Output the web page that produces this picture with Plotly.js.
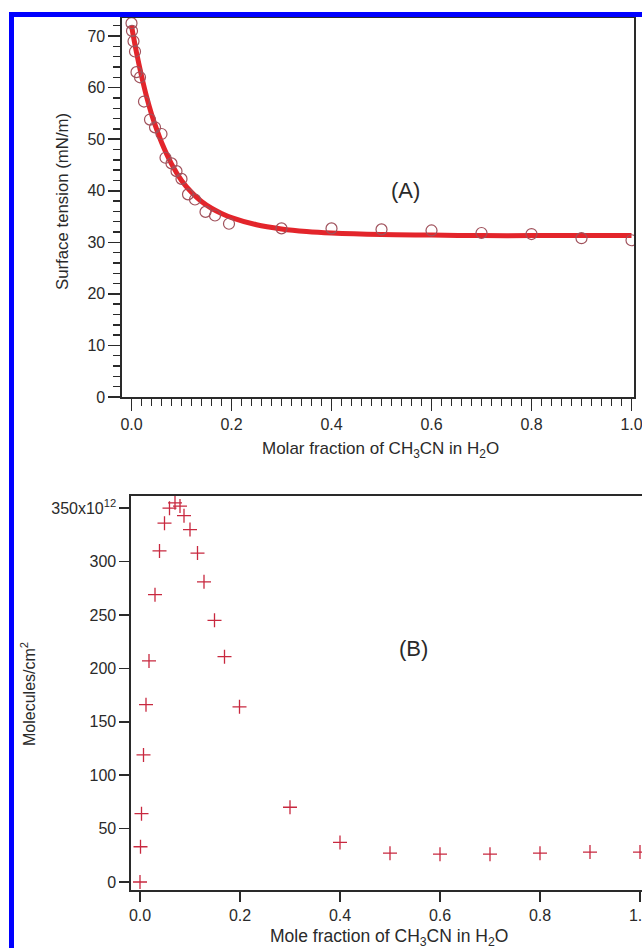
<!DOCTYPE html>
<html>
<head>
<meta charset="utf-8">
<script src="https://cdn.plot.ly/plotly-3.0.1.min.js"></script>
<style>
html, body { margin: 0; padding: 0; background: #fff; overflow: hidden; width: 642px; height: 948px; }
#chart { width: 660px; height: 948px; }
#frame { position: absolute; left: 9px; top: 12px; width: 660px; height: 940px;
  border-left: 5px solid #0000ff; border-top: 5px solid #0000ff; pointer-events: none; }
</style>
</head>
<body>
<div id="chart"></div>
<div id="frame"></div>
<script>
// Panel (A): surface tension measurements
const tensionX = [0, 0.001, 0.004, 0.007, 0.01, 0.017, 0.025, 0.037, 0.047, 0.06, 0.068, 0.08, 0.09, 0.1, 0.113, 0.127, 0.148, 0.167, 0.195, 0.3, 0.4, 0.5, 0.6, 0.7, 0.8, 0.9, 1.0];
const tensionY = [72.5, 71, 69, 67, 63, 62, 57.3, 53.8, 52.3, 51, 46.4, 45.3, 43.8, 42.3, 39.3, 38.3, 35.9, 35.2, 33.6, 32.7, 32.7, 32.5, 32.3, 31.8, 31.6, 30.8, 30.4];
// Panel (A): fitted curve
const fitX = [0, 0.01, 0.02, 0.03, 0.04, 0.05, 0.06, 0.08, 0.1, 0.12, 0.14, 0.16, 0.18, 0.2, 0.25, 0.3, 0.35, 0.4, 0.5, 0.6, 0.7, 0.8, 0.9, 1.0];
const fitY = [72, 66.8, 62.3, 58.3, 54.9, 52, 49.4, 45.2, 42, 39.7, 37.9, 36.6, 35.6, 34.8, 33.4, 32.6, 32.1, 31.8, 31.5, 31.4, 31.3, 31.3, 31.3, 31.3];
// Panel (B): surface excess (x10^12 molecules/cm^2)
const excessX = [0, 0.001, 0.003, 0.007, 0.012, 0.018, 0.03, 0.039, 0.049, 0.059, 0.07, 0.08, 0.088, 0.1, 0.115, 0.128, 0.149, 0.169, 0.199, 0.3, 0.4, 0.5, 0.6, 0.7, 0.8, 0.9, 1.0];
const excessY = [0, 33, 64, 119, 166, 207, 269, 310, 336, 350, 355, 352, 343, 330, 308, 281, 245, 211, 164, 70, 37, 27, 26, 26, 27, 28, 28];
// Tick labels
const xTickVals = [0, 0.2, 0.4, 0.6, 0.8, 1.0];
const xTickText = ['0.0', '0.2', '0.4', '0.6', '0.8', '1.0'];
const yATickVals = [0, 10, 20, 30, 40, 50, 60, 70];
const yBTickVals = [0, 50, 100, 150, 200, 250, 300, 350];
const yBTickText = ['0', '50', '100', '150', '200', '250', '300', '350x10<sup>12</sup>'];

const FONT = 'Liberation Sans, Arial, Helvetica, sans-serif';
const AX = '#2a2a2a';
const W = 660, H = 948;

const traces = [
  { x: fitX, y: fitY, xaxis: 'x', yaxis: 'y', mode: 'lines', type: 'scatter',
    line: { color: '#e3252b', width: 5, shape: 'spline' }, hoverinfo: 'skip' },
  { x: tensionX, y: tensionY, xaxis: 'x', yaxis: 'y', mode: 'markers', type: 'scatter',
    marker: { symbol: 'circle-open', size: 11, color: '#a0525c', line: { width: 1.2, color: '#a0525c' } } },
  { x: excessX, y: excessY, xaxis: 'x2', yaxis: 'y2', mode: 'markers', type: 'scatter',
    marker: { symbol: 'cross-thin-open', size: 10, color: '#c8283f', line: { width: 1.3, color: '#c8283f' } } }
];

function axisBase() {
  return {
    showline: true, linecolor: AX, linewidth: 1.6, mirror: true,
    ticks: 'outside', tickcolor: AX, tickwidth: 1.6,
    showgrid: false, zeroline: false, ticklabeloverflow: 'allow',
    tickfont: { family: FONT, size: 16, color: AX }
  };
}

const layout = {
  width: W, height: H,
  margin: { l: 0, r: 0, t: 0, b: 0 },
  paper_bgcolor: '#ffffff', plot_bgcolor: '#ffffff',
  showlegend: false,
  font: { family: FONT, color: AX },
  xaxis: Object.assign(axisBase(), {
    domain: [122/W, 634/W], anchor: 'y',
    range: [-0.019, 1.005], tickvals: xTickVals, ticktext: xTickText, ticklen: 12,
    minor: { ticks: 'outside', dtick: 0.02, tick0: 0, ticklen: 7, tickcolor: AX, tickwidth: 1.4 }
  }),
  yaxis: Object.assign(axisBase(), {
    domain: [1 - 397/H, 1 - 18/H], anchor: 'x',
    range: [0, 73.5], tickvals: yATickVals, ticklen: 12,
    minor: { ticks: 'outside', dtick: 2, tick0: 0, ticklen: 7, tickcolor: AX, tickwidth: 1.4 }
  }),
  xaxis2: Object.assign(axisBase(), {
    domain: [131/W, 642/W], anchor: 'y2',
    range: [-0.018, 1.004], tickvals: xTickVals, ticktext: xTickText, ticklen: 10
  }),
  yaxis2: Object.assign(axisBase(), {
    domain: [1 - 890/H, 1 - 496/H], anchor: 'x2',
    range: [-7.5, 361.4], tickvals: yBTickVals, ticktext: yBTickText, ticklen: 10
  }),
  annotations: [
    { text: '(A)', x: 0.547, y: 40.1, xref: 'x', yref: 'y', showarrow: false,
      font: { family: FONT, size: 22, color: AX } },
    { text: '(B)', x: 0.547, y: 219, xref: 'x2', yref: 'y2', showarrow: false,
      font: { family: FONT, size: 22, color: AX } },
    { text: 'Molar fraction of CH<sub>3</sub>CN in H<sub>2</sub>O', x: 380/W, y: 1 - 450/H,
      xref: 'paper', yref: 'paper', showarrow: false, xanchor: 'center', yanchor: 'middle',
      font: { family: FONT, size: 17, color: AX } },
    { text: 'Surface tension (mN/m)', x: 62/W, y: 1 - 201/H, xref: 'paper', yref: 'paper',
      textangle: -90, showarrow: false, xanchor: 'center', yanchor: 'middle',
      font: { family: FONT, size: 16.8, color: AX } },
    { text: 'Mole fraction of CH<sub>3</sub>CN in H<sub>2</sub>O', x: 389/W, y: 1 - 937/H,
      xref: 'paper', yref: 'paper', showarrow: false, xanchor: 'center', yanchor: 'middle',
      font: { family: FONT, size: 17.5, color: AX } },
    { text: 'Molecules/cm<sup>2</sup>', x: 28/W, y: 1 - 694/H, xref: 'paper', yref: 'paper',
      textangle: -90, showarrow: false, xanchor: 'center', yanchor: 'middle',
      font: { family: FONT, size: 16, color: AX } }
  ]
};

Plotly.newPlot('chart', traces, layout, { staticPlot: true, displayModeBar: false });
</script>
</body>
</html>
